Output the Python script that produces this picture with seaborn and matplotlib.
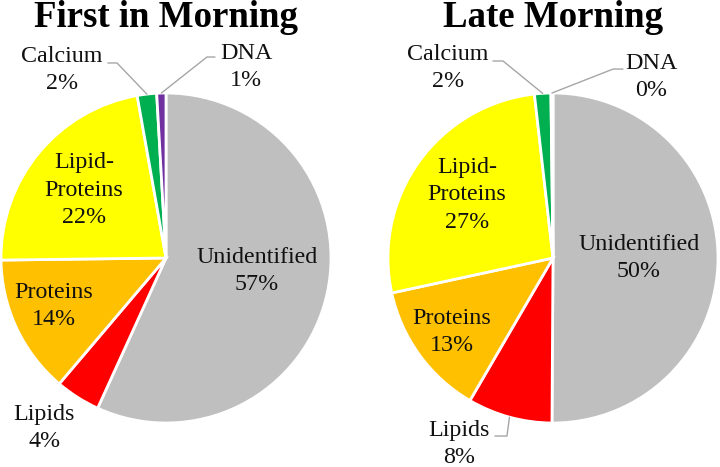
import matplotlib
matplotlib.use("Agg")
import matplotlib.pyplot as plt
import numpy as np
import seaborn as sns

# slice order: clockwise from 12 o'clock
categories = ["Unidentified", "Lipids", "Proteins", "Lipid-\nProteins", "Calcium", "DNA"]
first_morning = [56.8, 4.4, 13.6, 22.4, 1.9, 0.9]
late_morning = [50.1, 8.3, 13.2, 26.6, 1.6, 0.2]
titles = ["First in Morning", "Late Morning"]
colors = ["#BFBFBF", "#FF0000", "#FFC000", "#FFFF00", "#00B050", "#7030A0"]

sns.set_theme(style="white")
plt.rcParams["font.family"] = ["Liberation Serif", "DejaVu Serif"]

W, H, R = 720, 467, 165
centers = [(166, 258), (553, 258)]

# label centres in radius units, per chart
label_pos = [
    [(0.552, -0.079), (-0.739, -1.03), (-0.679, -0.291), (-0.497, 0.412), (-0.630, 1.139), (0.485, 1.158)],
    [(0.521, 0.0), (-0.570, -1.127), (-0.612, -0.448), (-0.521, 0.382), (-0.636, 1.152), (0.594, 1.097)],
]
# leader lines: slice index -> (elbow, end)
leaders = [
    {4: ((-0.297, 1.182), (-0.352, 1.182)), 5: ((0.248, 1.218), (0.297, 1.218))},
    {1: ((-0.279, -1.079), (-0.352, -1.079)), 4: ((-0.303, 1.194), (-0.364, 1.194)),
     5: ((0.364, 1.145), (0.424, 1.145))},
]

fig = plt.figure(figsize=(W / 100, H / 100), dpi=100)

for i, values in enumerate([first_morning, late_morning]):
    cx, cy = centers[i]
    ax = fig.add_axes([(cx - R) / W, (H - cy - R) / H, 2 * R / W, 2 * R / H])
    ax.pie(values, colors=colors, startangle=90, counterclock=False, radius=1.0,
           wedgeprops=dict(edgecolor="white", linewidth=2))
    ax.set_xlim(-1, 1)
    ax.set_ylim(-1, 1)
    ax.set_aspect("equal")
    ax.axis("off")

    total = sum(values)
    cum = np.cumsum([0] + values) / total
    for j, (cat, v) in enumerate(zip(categories, values)):
        x, y = label_pos[i][j]
        ax.text(x, y, f"{cat}\n{v / total * 100:.0f}%", ha="center", va="center",
                fontsize=17.3, linespacing=1.4, color="#111111", clip_on=False)
        if j in leaders[i]:
            mid = (cum[j] + cum[j + 1]) / 2 * 2 * np.pi
            ax_x, ax_y = np.sin(mid) * 1.0, np.cos(mid) * 1.0
            (ex, ey), (tx, ty) = leaders[i][j]
            ax.plot([ax_x, ex, tx], [ax_y, ey, ty], color="#A6A6A6", lw=1, clip_on=False)

    fig.text(cx / W, 1 - 27 / H, titles[i], ha="center", va="baseline",
             fontsize=26.6, fontweight="bold", color="black")

fig.savefig("out.png", dpi=100)
